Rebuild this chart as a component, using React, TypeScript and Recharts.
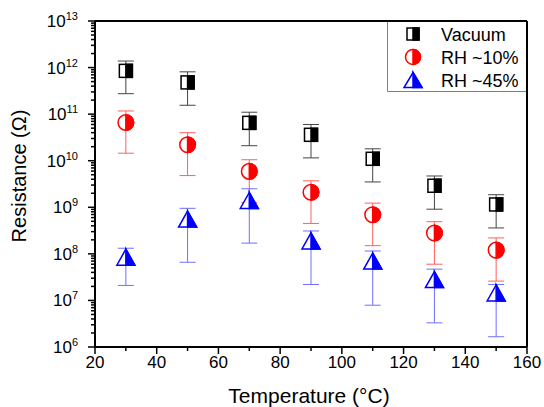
import React from 'react';
import { ScatterChart, Scatter, XAxis, YAxis, ErrorBar, ReferenceLine, Legend } from 'recharts';

const temperatures = [30, 50, 70, 90, 110, 130, 150];

const vacuumR = [8.5e11, 4.8e11, 6.5e10, 3.6e10, 1.1e10, 2.9e9, 1.15e9];
const vacuumLow = [2.75e11, 1.55e11, 2.1e10, 1.15e10, 3.5e9, 9.1e8, 3.6e8];
const vacuumHigh = [1.38e12, 8.1e11, 1.1e11, 6.0e10, 1.8e10, 4.7e9, 1.86e9];

const rh10R = [6.6e10, 2.2e10, 5.9e9, 2.1e9, 6.9e8, 2.8e8, 1.2e8];
const rh10Low = [1.45e10, 4.8e9, 1.26e9, 4.5e8, 1.5e8, 6.0e7, 2.6e7];
const rh10High = [1.17e11, 4.0e10, 1.05e10, 3.7e9, 1.23e9, 4.9e8, 2.2e8];

const rh45R = [8.5e7, 5.6e8, 1.4e9, 1.9e8, 7.0e7, 2.8e7, 1.45e7];
const rh45Low = [2.1e7, 6.6e7, 1.7e8, 2.2e7, 7.9e6, 3.3e6, 1.66e6];
const rh45High = [1.32e8, 9.5e8, 2.5e9, 3.1e8, 1.15e8, 4.7e7, 2.2e7];

const seriesNames = ['Vacuum', 'RH ~10%', 'RH ~45%'];

const xTicks = [20, 30, 40, 50, 60, 70, 80, 90, 100, 110, 120, 130, 140, 150, 160];
const xLabelTicks = [20, 40, 60, 80, 100, 120, 140, 160];
const yMajorExponents = [6, 7, 8, 9, 10, 11, 12, 13];
const yMinorFactors = [2, 3, 4, 5, 6, 7, 8, 9];

const yMajorTicks = yMajorExponents.map((e) => Math.pow(10, e));
const yMinorTicks: number[] = [];
yMajorExponents.slice(0, -1).forEach((e) => {
  yMinorFactors.forEach((f) => yMinorTicks.push(f * Math.pow(10, e)));
});
const yTicks = [...yMajorTicks, ...yMinorTicks].sort((a, b) => a - b);

const FONT = '"Liberation Sans", Arial, sans-serif';

function build(values: number[], lows: number[], highs: number[]) {
  return temperatures.map((t, i) => ({
    x: t,
    y: values[i],
    err: [values[i] - lows[i], highs[i] - values[i]],
  }));
}

const vacuumData = build(vacuumR, vacuumLow, vacuumHigh);
const rh10Data = build(rh10R, rh10Low, rh10High);
const rh45Data = build(rh45R, rh45Low, rh45High);

const HalfSquare = ({ cx, cy, size = 13 }: any) => {
  const h = size / 2;
  return (
    <g>
      <rect x={cx - h} y={cy - h} width={size} height={size} fill="#fff" stroke="#000" strokeWidth={1.5} />
      <rect x={cx} y={cy - h} width={h} height={size} fill="#000" stroke="#000" strokeWidth={1.5} />
    </g>
  );
};

const HalfCircle = ({ cx, cy, r = 7.8 }: any) => (
  <g>
    <circle cx={cx} cy={cy} r={r} fill="#fff" stroke="#ff0000" strokeWidth={1.5} />
    <path d={`M${cx},${cy - r} A${r},${r} 0 0 1 ${cx},${cy + r} Z`} fill="#ff0000" stroke="#ff0000" strokeWidth={1.5} />
  </g>
);

const HalfTriangle = ({ cx, cy, w = 18, h = 16 }: any) => {
  const top = cy - h / 2;
  const bot = cy + h / 2;
  return (
    <g>
      <polygon points={`${cx},${top} ${cx + w / 2},${bot} ${cx - w / 2},${bot}`} fill="#fff" stroke="#0000ff" strokeWidth={1.5} />
      <polygon points={`${cx},${top} ${cx + w / 2},${bot} ${cx},${bot}`} fill="#0000ff" stroke="#0000ff" strokeWidth={1.5} />
    </g>
  );
};

const YTick = (props: any) => {
  const { x, y, payload } = props;
  const v = payload.value;
  const exp = Math.log10(v);
  const isMajor = Math.abs(exp - Math.round(exp)) < 1e-9;
  return (
    <g>
      <line x1={x - (isMajor ? 7 : 4)} x2={x} y1={y} y2={y} stroke="#000" strokeWidth={1.5} />
      {isMajor && (
        <text x={x - 17} y={y + 6} textAnchor="end" fontSize={17} fontFamily={FONT} fill="#000">
          10
          <tspan dy={-7} fontSize={11}>{Math.round(exp)}</tspan>
        </text>
      )}
    </g>
  );
};

const XTick = (props: any) => {
  const { x, y, payload } = props;
  const v = payload.value;
  const isMajor = xLabelTicks.includes(v);
  return (
    <g>
      <line x1={x} x2={x} y1={y} y2={y + (isMajor ? 7 : 4)} stroke="#000" strokeWidth={1.5} />
      {isMajor && (
        <text x={x} y={y + 21} textAnchor="middle" fontSize={17} fontFamily={FONT} fill="#000">
          {v}
        </text>
      )}
    </g>
  );
};

const LegendBox = () => {
  const rows = [0, 1, 2];
  return (
    <svg width={139} height={70} style={{ display: 'block' }}>
      <rect x={0} y={0} width={139} height={70} fill="#fff" />
      <path d="M0.5,0 L0.5,69.5 L139,69.5" fill="none" stroke="#808080" strokeWidth={1} />
      {rows.map((i) => {
        const cy = 12 + 23 * i;
        return (
          <g key={i}>
            {i === 0 && <HalfSquare cx={26} cy={cy} size={12} />}
            {i === 1 && <HalfCircle cx={26} cy={cy} r={7.5} />}
            {i === 2 && <HalfTriangle cx={26} cy={cy} w={18} h={15} />}
            <text x={54} y={cy + 6.5} fontSize={18} fontFamily={FONT} fill="#000">
              {seriesNames[i]}
            </text>
          </g>
        );
      })}
    </svg>
  );
};

export default function App() {
  return (
    <div style={{ position: 'fixed', left: 0, top: 0, width: 544, height: 407, background: '#fff' }}>
      <ScatterChart width={544} height={407} margin={{ top: 21, right: 17, bottom: 15, left: 25 }}>
        <XAxis
          type="number"
          dataKey="x"
          domain={[20, 160]}
          ticks={xTicks}
          interval={0}
          allowDataOverflow
          height={45}
          tickSize={0}
          tickMargin={0}
          tickLine={false}
          tick={<XTick />}
          axisLine={{ stroke: '#000', strokeWidth: 2 }}
          label={(p: any) => {
            const vb = p.viewBox || { x: 95, width: 432 };
            return (
              <text x={vb.x + vb.width / 2 - 2} y={403} textAnchor="middle" fontSize={21} fontFamily={FONT} fill="#000">
                Temperature (°C)
              </text>
            );
          }}
        />
        <YAxis
          type="number"
          dataKey="y"
          scale="log"
          domain={[1e6, 1e13]}
          ticks={yTicks}
          interval={0}
          allowDataOverflow
          width={70}
          tickSize={0}
          tickMargin={0}
          tickLine={false}
          tick={<YTick />}
          axisLine={{ stroke: '#000', strokeWidth: 2 }}
          label={() => (
            <text x={26} y={176} transform="rotate(-90 26 176)" textAnchor="middle" fontSize={20} fontFamily={FONT} fill="#000">
              Resistance (Ω)
            </text>
          )}
        />
        <ReferenceLine y={1e13} stroke="#000" strokeWidth={2} />
        <ReferenceLine x={160} stroke="#000" strokeWidth={2} />
        <Scatter name={seriesNames[0]} data={vacuumData} isAnimationActive={false} shape={(p: any) => <HalfSquare cx={p.cx} cy={p.cy} />}>
          <ErrorBar dataKey="err" direction="y" width={8} stroke="#444" strokeWidth={1} />
        </Scatter>
        <Scatter name={seriesNames[1]} data={rh10Data} isAnimationActive={false} shape={(p: any) => <HalfCircle cx={p.cx} cy={p.cy} />}>
          <ErrorBar dataKey="err" direction="y" width={8} stroke="#ff6060" strokeWidth={1} />
        </Scatter>
        <Scatter name={seriesNames[2]} data={rh45Data} isAnimationActive={false} shape={(p: any) => <HalfTriangle cx={p.cx} cy={p.cy} />}>
          <ErrorBar dataKey="err" direction="y" width={8} stroke="#7070ff" strokeWidth={1} />
        </Scatter>
        <Legend
          layout="vertical"
          align="center"
          verticalAlign="middle"
          wrapperStyle={{ left: 387, top: 22, width: 139, height: 70 }}
          content={() => <LegendBox />}
        />
      </ScatterChart>
    </div>
  );
}
